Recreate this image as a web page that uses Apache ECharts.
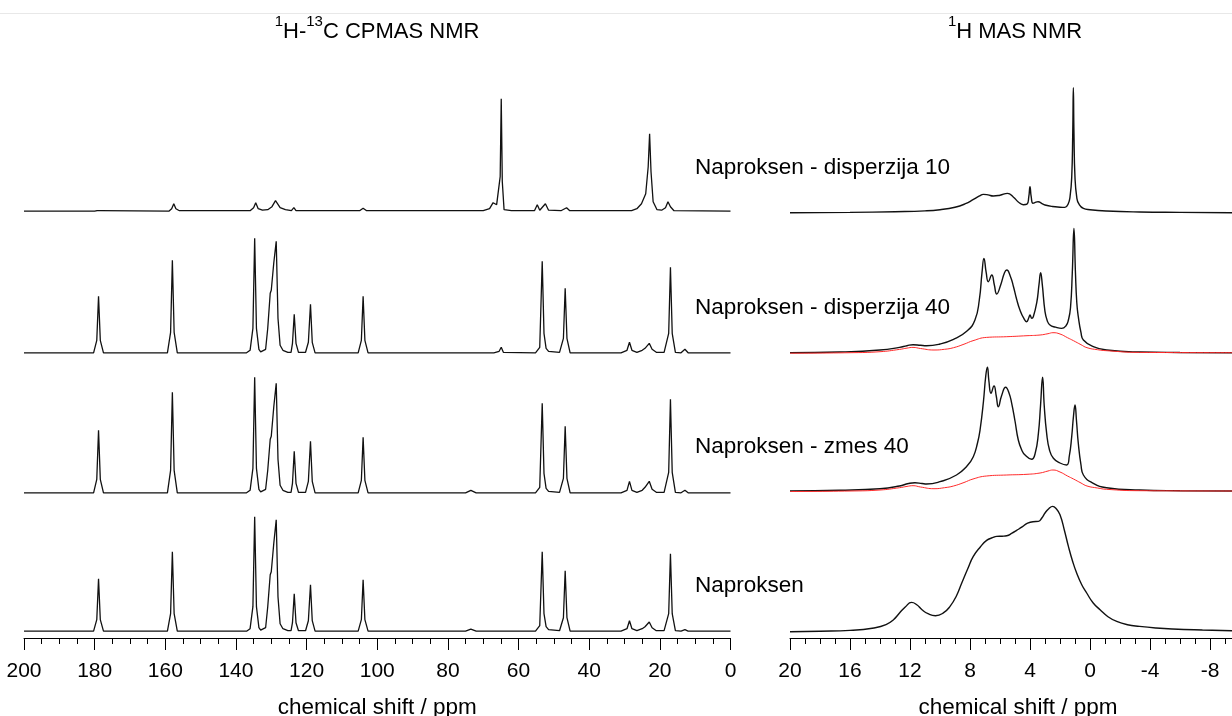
<!DOCTYPE html>
<html>
<head>
<meta charset="utf-8">
<title>Naproksen NMR</title>
<script src="https://cdn.jsdelivr.net/npm/echarts@6/dist/echarts.min.js"></script>
<style>
  html, body { margin: 0; padding: 0; background: #fff; }
  #nmr { width: 1232px; height: 716px; }
</style>
</head>
<body>
<div id="nmr"></div>
<script>
// sample names (from top to bottom)
const sampleNames = ['Naproksen - disperzija 10', 'Naproksen - disperzija 40', 'Naproksen - zmes 40', 'Naproksen']

// 13C CPMAS spectra, [ppm, intensity]
const c13Disp10 = [
  [200, 0.5], [180, 0.5], [179.3, 1], [178.8, 3], [178.3, 1],
  [159, 0.5], [158.2, 3], [157.6, 8], [157.0, 3], [156, 1],
  [136, 1], [135.0, 4], [134.4, 9], [133.7, 3], [132.5, 1.5], [131, 2], [129.8, 5], [128.8, 11], [128.3, 12], [127.5, 4], [126, 2],
  [124.3, 1], [123.6, 4], [123, 1],
  [105, 1], [104, 3.5], [103, 1],
  [70, 1], [68.2, 3], [67.2, 9], [66.2, 7], [65.2, 35], [64.9, 113], [64.6, 30], [64.1, 2], [62, 1],
  [55.5, 1], [54.7, 7], [54.0, 1.5], [52.4, 8], [51.5, 1.5], [48, 1], [46.4, 4], [45.5, 1],
  [28, 1], [26.5, 3], [25.2, 8], [24.0, 18], [23.3, 45], [22.9, 78], [22.5, 40], [21.9, 10], [20.8, 2], [19.5, 1.5],
  [18.4, 4], [17.7, 10], [17.0, 5], [16, 1], [0, 0.5]
]
const c13Disp40 = [
  [200, 0.5], [181, 0.5],
  [180.3, 0.5], [179.4, 13], [178.9, 57], [178.4, 13], [177.5, 0.5],
  [159.4, 0.5], [158.5, 21], [158.0, 93], [157.5, 21], [156.6, 0.5],
  [137, 0.5], [136.0, 3], [135.2, 25], [134.7, 115], [134.2, 25], [133.5, 4], [133.0, 1.5],
  [131.6, 4], [131.0, 25], [130.3, 60], [130.0, 63], [129.3, 90], [128.6, 112], [128.1, 35], [127.5, 8], [126.7, 3], [125.3, 1],
  [124.4, 1], [124.0, 10], [123.5, 39], [123.0, 10], [122.3, 1],
  [120.3, 1], [119.5, 11], [118.9, 49], [118.4, 11], [117.6, 0.5],
  [105.4, 0.5], [104.5, 13], [104.0, 57], [103.5, 13], [102.6, 0.5],
  [67, 0.5], [65.5, 2], [64.9, 6], [64.3, 1],
  [55.2, 0.5], [54.0, 6], [53.3, 92], [52.8, 20], [52.2, 5], [51.5, 2],
  [48.4, 1], [47.3, 15], [46.8, 65], [46.3, 15], [45.4, 0.5],
  [31, 0.5], [29.3, 3], [28.6, 11], [27.9, 3], [26.5, 1], [25, 3], [24.2, 5], [23.0, 10], [22.2, 4], [21, 1],
  [18.8, 1], [17.5, 20], [17.0, 86], [16.5, 20], [15.6, 1],
  [14, 0.5], [12.9, 4], [12, 0.5], [0, 0.5]
]
const c13Zmes40 = [
  [200, 0.5], [181, 0.5],
  [180.3, 0.5], [179.4, 14], [178.9, 63], [178.4, 14], [177.5, 0.5],
  [159.4, 0.5], [158.5, 23], [158.0, 101], [157.5, 23], [156.6, 0.5],
  [137, 0.5], [136.0, 3], [135.2, 25], [134.7, 116], [134.2, 25], [133.5, 4], [133.0, 1.5],
  [131.6, 4], [131.0, 23], [130.3, 54], [130.0, 57], [129.3, 86], [128.6, 110], [128.1, 34], [127.5, 8], [126.7, 3], [125.3, 1],
  [124.4, 1], [124.0, 10], [123.5, 42], [123.0, 10], [122.3, 1],
  [120.3, 1], [119.5, 12], [118.9, 52], [118.4, 12], [117.6, 0.5],
  [105.4, 0.5], [104.5, 13], [104.0, 56], [103.5, 13], [102.6, 0.5],
  [75, 0.5], [73.5, 3], [72, 0.5],
  [55.2, 0.5], [54.0, 6], [53.3, 90], [52.8, 20], [52.2, 5], [51.5, 2],
  [48.4, 1], [47.3, 15], [46.8, 67], [46.3, 15], [45.4, 0.5],
  [31, 0.5], [29.3, 3], [28.6, 12], [27.9, 3], [26.5, 1], [25, 3], [24.2, 6], [23.0, 12], [22.2, 4], [21, 1],
  [18.8, 1], [17.5, 21], [17.0, 94], [16.5, 21], [15.6, 1],
  [14, 0.5], [12.9, 3], [12, 0.5], [0, 0.5]
]
const c13Naproksen = [
  [200, 0.5], [181, 0.5],
  [180.3, 0.5], [179.4, 12], [178.9, 53], [178.4, 12], [177.5, 0.5],
  [159.4, 0.5], [158.5, 18], [158.0, 80], [157.5, 18], [156.6, 0.5],
  [137, 0.5], [136.0, 3], [135.2, 25], [134.7, 115], [134.2, 25], [133.5, 4], [133.0, 1.5],
  [131.6, 4], [131.0, 25], [130.3, 57], [130.0, 60], [129.3, 88], [128.6, 112], [128.1, 35], [127.5, 8], [126.7, 3], [125.3, 1],
  [124.4, 1], [124.0, 9], [123.5, 38], [123.0, 9], [122.3, 1],
  [120.3, 1], [119.5, 11], [118.9, 47], [118.4, 11], [117.6, 0.5],
  [105.4, 0.5], [104.5, 12], [104.0, 52], [103.5, 12], [102.6, 0.5],
  [75, 0.5], [73.5, 2.5], [72, 0.5],
  [55.2, 0.5], [54.0, 6], [53.3, 80], [52.8, 18], [52.2, 5], [51.5, 2],
  [48.4, 1], [47.3, 14], [46.8, 61], [46.3, 14], [45.4, 0.5],
  [31, 0.5], [29.3, 3], [28.6, 11], [27.9, 3], [26.5, 1], [25, 3], [24.2, 5], [23.0, 9.7], [22.2, 4], [21, 1],
  [18.8, 1], [17.5, 18], [17.0, 78], [16.5, 18], [15.6, 1],
  [14, 0.5], [12.9, 2], [12, 0.5], [0, 0.5]
]

// 1H MAS spectra, [ppm, intensity]
const h1Disp10 = [
  [20, 0], [16, 0.3], [13, 1], [11, 1.8], [10, 3], [9, 5.5], [8.3, 9], [7.8, 13], [7.4, 16.5], [7.1, 18.3], [6.8, 17.8],
  [6.45, 16.7], [6.0, 17.5], [5.5, 19.3], [5.1, 15.5], [4.8, 11], [4.45, 8], [4.2, 8.5], [4.08, 16], [4.0, 26], [3.92, 16],
  [3.8, 9.5], [3.6, 10.5], [3.45, 11], [3.2, 9], [3.0, 7.7], [2.5, 6.2], [2.0, 5.5], [1.67, 5.3], [1.45, 9], [1.33, 16],
  [1.22, 35], [1.15, 80], [1.11, 125], [1.07, 80], [1.0, 35], [0.88, 15], [0.75, 9], [0.44, 4.3], [0, 3], [-1.1, 1.7],
  [-3.3, 0.7], [-6, 0.3], [-9.5, 0]
]
const h1Disp40 = [
  [20, 0], [16.7, 0.7], [14, 2.7], [12.7, 5.3], [12.2, 7], [11.8, 8], [11.3, 7.4], [10.9, 7], [10.0, 8.7], [9.1, 13.3],
  [8.2, 21.7], [7.67, 32.7], [7.38, 52.7], [7.2, 80], [7.07, 94.3], [6.92, 80], [6.78, 71], [6.55, 77.7], [6.38, 68],
  [6.22, 58.7], [5.95, 68], [5.7, 80], [5.55, 82.7], [5.3, 76], [5.1, 66], [4.9, 54], [4.67, 42.7], [4.4, 34], [4.22, 31],
  [4.08, 35], [4.0, 37.7], [3.88, 34.5], [3.78, 36], [3.55, 50], [3.4, 68], [3.29, 80], [3.18, 68], [3.0, 41], [2.85, 32],
  [2.67, 27.7], [2.3, 25.5], [1.89, 24.3], [1.6, 27], [1.44, 32.7], [1.3, 45], [1.18, 80], [1.07, 124.3], [0.97, 80],
  [0.88, 50], [0.78, 36], [0.6, 20], [0.44, 12.7], [-0.22, 6], [-1.11, 2.7], [-3.3, 0.7], [-6, 0.2], [-9.5, 0]
]
const h1Disp40Red = [
  [20, -0.5], [16, 0], [14, 1], [12.7, 3.3], [12.2, 4.6], [11.8, 5.3], [11.3, 4.2], [10.4, 2.7], [9.7, 3.4], [9.1, 5],
  [8.4, 8.5], [7.8, 12], [6.9, 15.3], [5.55, 16], [4.2, 17], [3.33, 17.7], [2.8, 19], [2.47, 20], [2.0, 18.7], [1.5, 15],
  [1.1, 12], [0.6, 8], [0.2, 5], [-0.5, 3], [-1.1, 2], [-3.3, 0.3], [-9.5, 0]
]
const h1Zmes40 = [
  [20, 0], [16.7, 0.7], [14, 2.3], [12.7, 5], [12.1, 7.5], [11.67, 8.3], [11.2, 7.5], [10.9, 7], [10.0, 9.3], [8.9, 16],
  [8.2, 25], [7.78, 34.3], [7.5, 48], [7.33, 61], [7.1, 90], [6.95, 115], [6.84, 123.7], [6.74, 110], [6.6, 97.7], [6.4, 105],
  [6.25, 95], [6.11, 84.3], [5.9, 95], [5.62, 103.7], [5.4, 98], [5.22, 87.7], [5.0, 70], [4.78, 51], [4.55, 41], [4.33, 36],
  [3.89, 31.7], [3.65, 38], [3.44, 57.7], [3.3, 85], [3.16, 113.7], [3.05, 85], [2.89, 57.7], [2.7, 41], [2.44, 32.7],
  [2.0, 28], [1.56, 26], [1.38, 35], [1.22, 54.3], [1.1, 75], [1.0, 86], [0.9, 70], [0.78, 47.7], [0.6, 26], [0.44, 16],
  [-0.22, 7.7], [-1.1, 3.3], [-3.3, 1], [-6, 0.3], [-9.5, 0]
]
const h1Zmes40Red = [
  [20, -0.5], [16, 0], [14, 1], [12.7, 3.3], [12.2, 4.6], [11.8, 5.3], [11.3, 4], [10.4, 2.3], [9.7, 3.3], [9.1, 5],
  [8.4, 8.5], [7.8, 12], [6.9, 15], [5.55, 16], [4.2, 16.7], [3.33, 18], [2.8, 20], [2.47, 21], [2.0, 19], [1.5, 15],
  [1.1, 12], [0.6, 8], [0.2, 5], [-0.5, 3], [-1.1, 1.7], [-3.3, 0.3], [-9.5, 0]
]
const h1Naproksen = [
  [20, 0], [18, 0.5], [16, 1.3], [14.4, 3.7], [13.6, 7], [13.1, 12], [12.7, 18.7], [12.3, 25], [11.9, 29.3], [11.55, 27],
  [11.2, 22], [10.8, 18], [10.3, 16], [9.8, 18.5], [9.33, 25.3], [8.9, 36], [8.55, 48.7], [8.15, 63], [7.78, 75.3],
  [7.3, 85], [6.89, 91.3], [6.5, 94], [6.22, 95.3], [5.85, 95.5], [5.55, 96], [5.2, 98.5], [4.89, 101.3], [4.5, 105],
  [4.22, 108], [3.8, 110], [3.44, 110.3], [3.2, 114], [3.0, 118.7], [2.75, 123], [2.49, 125.3], [2.25, 123], [2.0, 117],
  [1.7, 101], [1.44, 85.3], [1.15, 70], [0.89, 58.7], [0.55, 47], [0.22, 38.7], [-0.2, 29], [-0.67, 22], [-1.2, 15],
  [-1.78, 10.3], [-2.5, 7], [-3.3, 5.3], [-4.4, 3.7], [-5.5, 2.7], [-7.5, 1.7], [-9.5, 1]
]

// vertical stacking offsets of the traces (top to bottom)
const c13Offsets = [426.3, 284.7, 144.7, 6.3]
const h1Offsets = [425.3, 285.3, 147, 6.3]

const FONT = '"Liberation Sans", Arial, sans-serif'

function shift(data, off) {
  return data.map(p => [p[0], p[1] + off])
}

function trace(data, off, xIdx, color, width, smooth) {
  return {
    type: 'line',
    xAxisIndex: xIdx,
    yAxisIndex: xIdx,
    data: shift(data, off),
    showSymbol: false,
    smooth: smooth,
    silent: true,
    animation: false,
    lineStyle: { color: color, width: width }
  }
}

// shared look of the two ppm axes
function ppmAxis(gridIndex, min, max, interval, shiftName) {
  return {
    type: 'value',
    gridIndex: gridIndex,
    inverse: true,
    min: min,
    max: max,
    interval: interval,
    position: 'bottom',
    name: 'chemical shift / ppm',
    nameLocation: 'middle',
    nameGap: 58,
    nameTextStyle: { fontSize: 22.5, color: '#000', fontFamily: FONT, padding: [0, shiftName, 0, 0] },
    axisLine: { onZero: false, lineStyle: { color: '#000', width: 1 } },
    axisTick: { length: 12, lineStyle: { color: '#000', width: 1 } },
    minorTick: { show: true, splitNumber: 4, length: 6, lineStyle: { color: '#000', width: 1 } },
    axisLabel: { fontSize: 21, color: '#000', margin: 23, fontFamily: FONT, showMinLabel: true, showMaxLabel: true },
    splitLine: { show: false },
    minorSplitLine: { show: false }
  }
}

const myChart = echarts.init(document.getElementById('nmr'))

const series = [
  trace(c13Disp10, c13Offsets[0], 0, '#111', 1.3, false),
  trace(c13Disp40, c13Offsets[1], 0, '#111', 1.3, false),
  trace(c13Zmes40, c13Offsets[2], 0, '#111', 1.3, false),
  trace(c13Naproksen, c13Offsets[3], 0, '#111', 1.3, false),
  trace(h1Disp10, h1Offsets[0], 1, '#111', 1.4, 0.5),
  trace(h1Disp40, h1Offsets[1], 1, '#111', 1.4, 0.5),
  trace(h1Disp40Red, h1Offsets[1], 1, '#ff2a2a', 1, 0.5),
  trace(h1Zmes40, h1Offsets[2], 1, '#111', 1.4, 0.5),
  trace(h1Zmes40Red, h1Offsets[2], 1, '#ff2a2a', 1, 0.5),
  trace(h1Naproksen, h1Offsets[3], 1, '#111', 1.4, 0.5)
]

const titleRich = {
  n: { fontSize: 22, lineHeight: 36, fontFamily: FONT, fill: '#000' },
  s: { fontSize: 15, lineHeight: 16, verticalAlign: 'top', fontFamily: FONT, fill: '#000' }
}

const graphic = [
  // faint frame line at the top
  { type: 'line', shape: { x1: 0, y1: 13.5, x2: 1232, y2: 13.5 }, style: { stroke: '#e8e8e8', lineWidth: 1 }, silent: true },
  {
    type: 'text', x: 377, y: 32,
    style: { text: '{s|1}{n|H-}{s|13}{n|C CPMAS NMR}', rich: titleRich, fill: '#000', align: 'center', verticalAlign: 'middle', textAlign: 'center', textVerticalAlign: 'middle' }
  },
  {
    type: 'text', x: 1015, y: 32,
    style: { text: '{s|1}{n|H MAS NMR}', rich: titleRich, fill: '#000', align: 'center', verticalAlign: 'middle', textAlign: 'center', textVerticalAlign: 'middle' }
  }
]
const labelY = [168, 308, 447, 586]
sampleNames.forEach((name, i) => {
  graphic.push({
    type: 'text', x: 695, y: labelY[i],
    style: { text: name, fill: '#000', font: '22.5px ' + FONT, verticalAlign: 'middle', textVerticalAlign: 'middle' }
  })
})

const option = {
  backgroundColor: '#fff',
  animation: false,
  textStyle: { fontFamily: FONT },
  grid: [
    { left: 24, right: 501.5, top: 78, bottom: 78, outerBoundsMode: 'none' },
    { left: 790, right: -38, top: 78, bottom: 78, outerBoundsMode: 'none' }
  ],
  xAxis: [
    ppmAxis(0, 0, 200, 20, 0),
    ppmAxis(1, -12, 20, 4, 24)
  ],
  yAxis: [
    { type: 'value', gridIndex: 0, min: 0, max: 560, show: false },
    { type: 'value', gridIndex: 1, min: 0, max: 560, show: false }
  ],
  graphic: graphic,
  series: series
}
myChart.setOption(option)
</script>
</body>
</html>
